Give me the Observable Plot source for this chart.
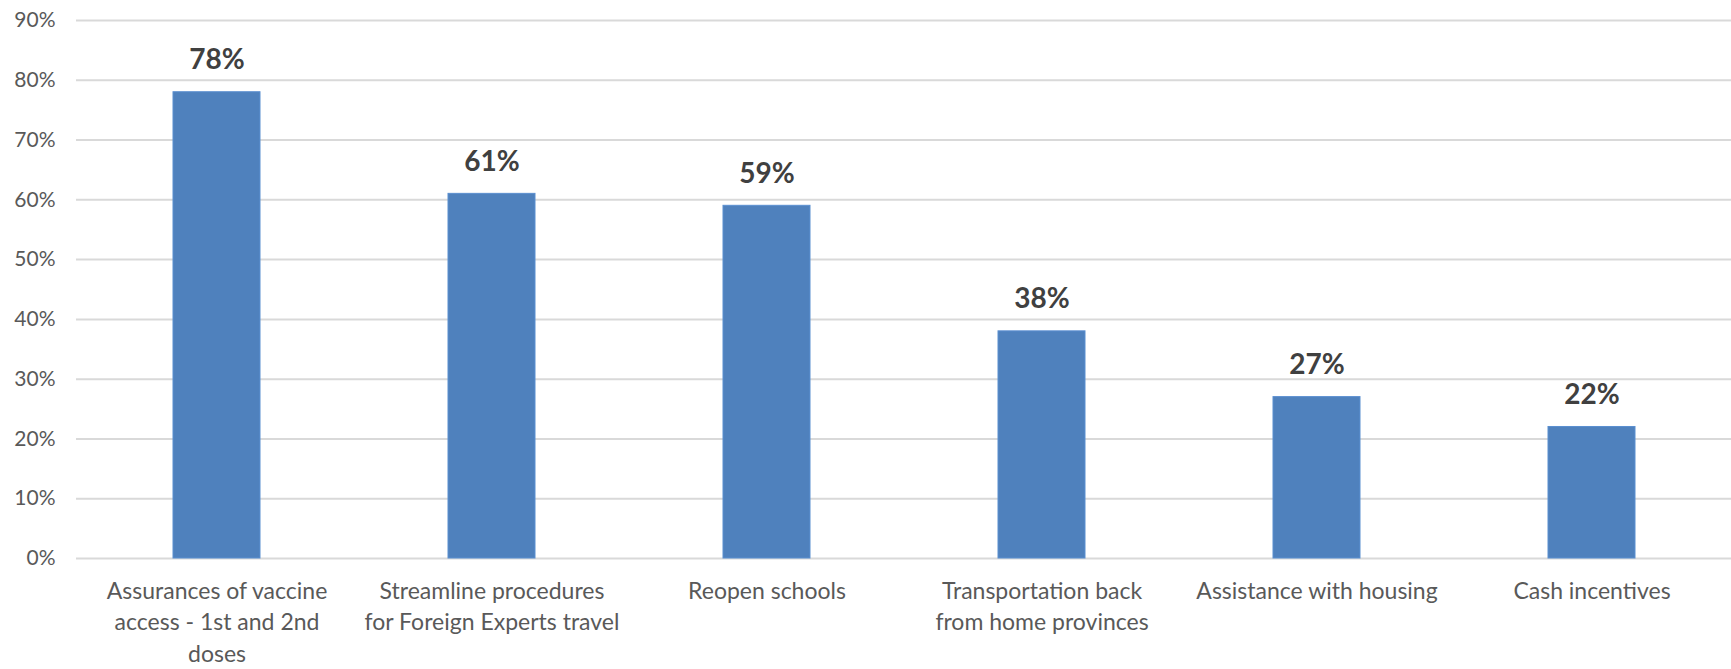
<!DOCTYPE html>
<html>
<head>
<meta charset="utf-8">
<script src="https://cdn.jsdelivr.net/npm/d3@7"></script>
<script src="https://cdn.jsdelivr.net/npm/@observablehq/plot@0.6"></script>
<style>
  html, body { margin: 0; padding: 0; background: #fff; }
  #chart svg { display: block; }
</style>
</head>
<body>
<div id="chart"></div>
<script>
const categories = [
  "Assurances of vaccine\naccess - 1st and 2nd\ndoses",
  "Streamline procedures\nfor Foreign Experts travel",
  "Reopen schools",
  "Transportation back\nfrom home provinces",
  "Assistance with housing",
  "Cash incentives"
];
const values = [0.78, 0.61, 0.59, 0.38, 0.27, 0.22];
const valueLabels = ["78%", "61%", "59%", "38%", "27%", "22%"];
const yTicks = [0, 0.1, 0.2, 0.3, 0.4, 0.5, 0.6, 0.7, 0.8, 0.9];
const yTickLabels = ["0%", "10%", "20%", "30%", "40%", "50%", "60%", "70%", "80%", "90%"];

const data = categories.map((c, i) => ({category: c, value: values[i], label: valueLabels[i]}));

const chart = Plot.plot({
  width: 1731,
  height: 669,
  marginTop: 20,
  marginBottom: 111,
  marginLeft: 76,
  marginRight: 0,
  style: {fontFamily: "Lato, 'Open Sans', sans-serif", background: "#fff"},
  x: {domain: categories, paddingInner: 0.685, paddingOuter: 0.3425, label: null},
  y: {domain: [0, 0.9], label: null},
  marks: [
    Plot.ruleY(yTicks, {stroke: "#d9d9d9", strokeWidth: 2}),
    Plot.barY(data, {x: "category", y: "value", fill: "#4f81bd", stroke: "#5b8fd0", strokeWidth: 1}),
    Plot.text(data, {x: "category", y: "value", text: "label", dy: -32, fontSize: 28, fontWeight: "bold", fill: "#404040"}),
    Plot.axisY(yTicks, {tickFormat: (d, i) => yTickLabels[i], tickSize: 0, tickPadding: 21, fontSize: 21, fill: "#595959", label: null}),
    Plot.axisX({tickSize: 0, tickPadding: 18, fontSize: 23, lineHeight: 1.37, fill: "#595959", label: null, textAnchor: "middle", style: {letterSpacing: "1px"}})
  ]
});
document.getElementById("chart").appendChild(chart);
</script>
</body>
</html>
